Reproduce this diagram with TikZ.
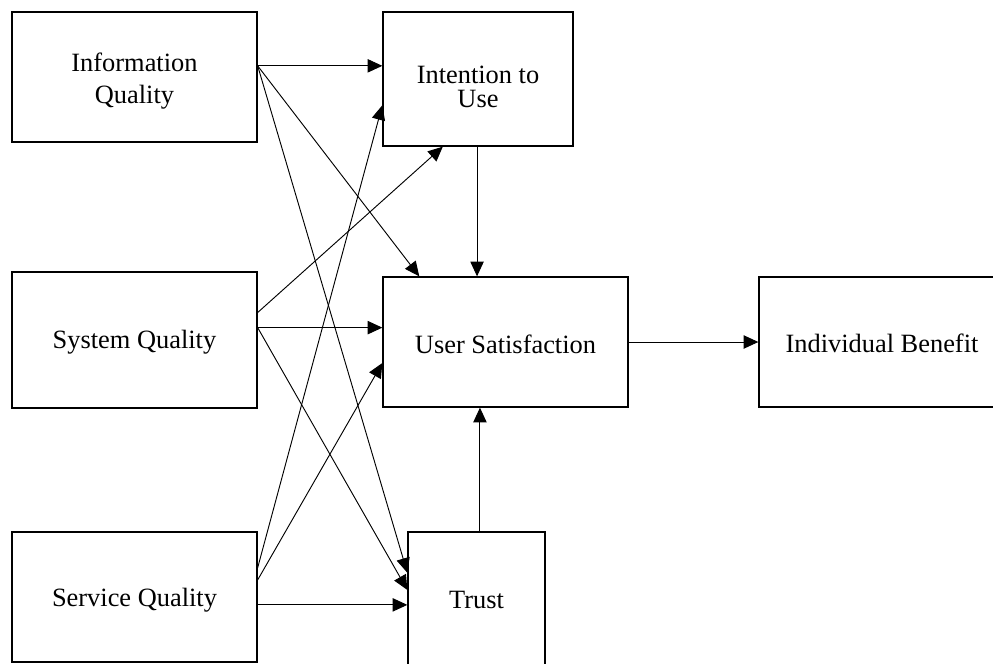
\documentclass[tikz,border=0pt]{standalone}
\usepackage{fontspec}
\setmainfont{Liberation Serif}
\usetikzlibrary{arrows.meta,calc}
\begin{document}
\begin{tikzpicture}[x=0.75pt,y=-0.75pt,
  box/.style={draw,line width=1pt,rectangle,inner sep=0pt},
  lbl/.style={inner sep=0pt,align=center,font=\fontsize{19.8}{23.5}\selectfont},
  conn/.style={line width=0.7pt,-{Triangle[length=11pt,width=10pt]}}]
\useasboundingbox (0,0) rectangle (993,664);
\node[box,minimum width=183.75pt,minimum height=97.5pt] (info) at (134.5,77) {};
\node[lbl] (infoT) at ($(info.center)+(0,4)$) {Information\\Quality};
\node[box,minimum width=142.5pt,minimum height=100.5pt] (intent) at (478,79) {};
\node[lbl,font=\fontsize{19.8}{18.5}\selectfont] (intentT) at ($(intent.center)+(0,8)$) {Intention to\\Use};
\node[box,minimum width=183.75pt,minimum height=102pt] (sys) at (134.5,340) {};
\node[lbl] (sysT) at ($(sys.center)+(0,2)$) {System Quality};
\node[box,minimum width=183.75pt,minimum height=97.5pt] (us) at (505.5,342) {};
\node[lbl] (usT) at ($(us.center)+(0,2)$) {User Satisfaction};
\node[box,minimum width=184.5pt,minimum height=97.5pt] (ib) at (882,342) {};
\node[lbl] (ibT) at ($(ib.center)+(0,1)$) {Individual Benefit};
\node[box,minimum width=183.75pt,minimum height=97.5pt] (sq) at (134.5,597) {};
\node[lbl] (sqT) at ($(sq.center)+(0,3)$) {Service Quality};
\node[box,minimum width=102.75pt,minimum height=100.5pt] (trust) at (476.5,599) {};
\node[lbl] (trustT) at ($(trust.center)+(0,1)$) {Trust};

\coordinate (infoO) at ($(info.north east)!0.415!(info.south east)$);
\draw[conn] (infoO) -- (infoO -| intent.west);
\draw[conn] (infoO) -- ($(us.north west)!0.15!(us.north east)$);
\draw[conn] (infoO) -- ($(trust.north west)!0.306!(trust.south west)$);

\coordinate (sysA) at ($(sys.north east)!0.30!(sys.south east)$);
\coordinate (sysB) at ($(sys.north east)!0.41!(sys.south east)$);
\draw[conn] (sysA) -- ($(intent.south west)!0.316!(intent.south east)$);
\draw[conn] (sysB) -- (sysB -| us.west);
\draw[conn] (sysB) -- ($(trust.north west)!0.433!(trust.south west)$);

\coordinate (sqA) at ($(sq.north east)!0.277!(sq.south east)$);
\coordinate (sqB) at ($(sq.north east)!0.37!(sq.south east)$);
\coordinate (sqC) at ($(sq.north east)!0.56!(sq.south east)$);
\draw[conn] (sqA) -- ($(intent.north west)!0.694!(intent.south west)$);
\draw[conn] (sqB) -- ($(us.north west)!0.66!(us.south west)$);
\draw[conn] (sqC) -- (sqC -| trust.west);

\coordinate (intB) at ($(intent.south west)!0.495!(intent.south east)$);
\draw[conn] (intB) -- (intB |- us.north);
\coordinate (trT) at ($(trust.north west)!0.525!(trust.north east)$);
\draw[conn] (trT) -- (trT |- us.south);
\draw[conn] (us.east) -- (ib.west);
\end{tikzpicture}
\end{document}
